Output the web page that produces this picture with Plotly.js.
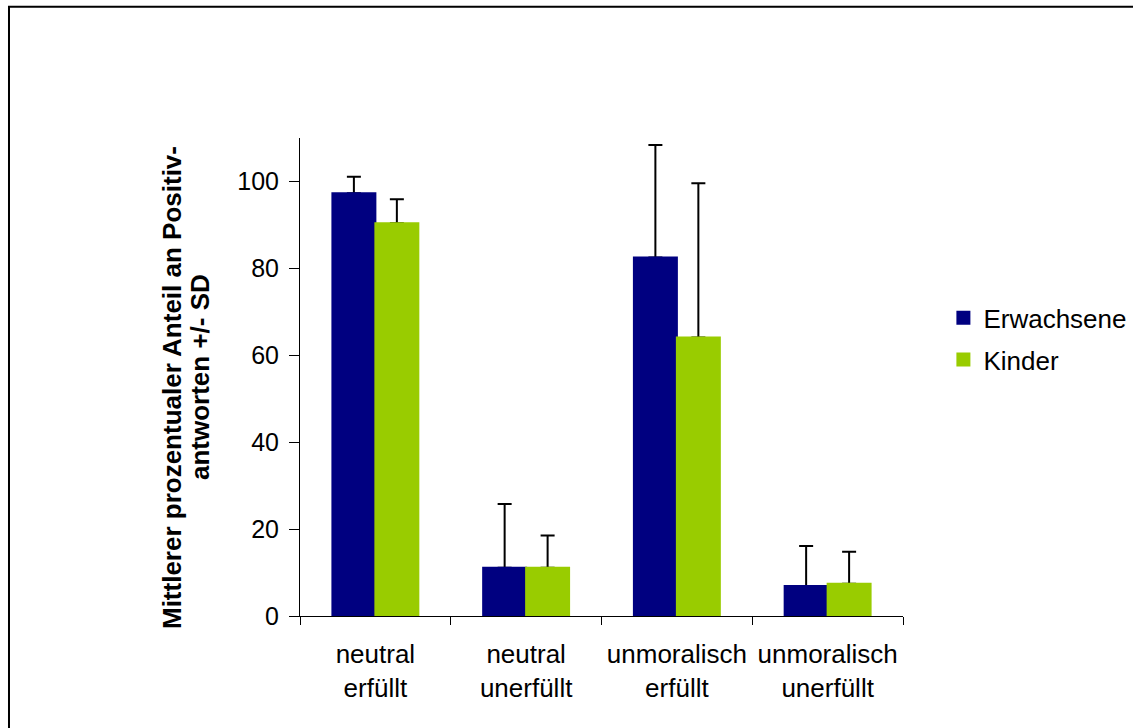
<!DOCTYPE html>
<html>
<head>
<meta charset="utf-8">
<script src="https://cdn.plot.ly/plotly-3.0.1.min.js"></script>
<style>
  html, body { margin: 0; padding: 0; background: #fff; }
  #chart { width: 1133px; height: 728px; }
</style>
</head>
<body>
<div id="chart"></div>
<script>
const categories = ["neutral<br>erfüllt", "neutral<br>unerfüllt", "unmoralisch<br>erfüllt", "unmoralisch<br>unerfüllt"];
const seriesNames = ["Erwachsene", "Kinder"];
const erwachsene = [97.3, 11.1, 82.5, 6.9];
const erwachseneSD = [3.8, 14.7, 25.9, 9.2];
const kinder = [90.4, 11.1, 64.1, 7.4];
const kinderSD = [5.5, 7.4, 35.5, 7.4];
const yTicks = [0, 20, 40, 60, 80, 100];
const titleLines = ["Mittlerer prozentualer Anteil an Positiv-", "antworten +/- SD"];

const FONT = "Liberation Sans, Arial, sans-serif";
const colors = ["#000080", "#99CC00"];

function zeros(a) { return a.map(() => 0); }
function addArr(a, b) { return a.map((v, i) => v + b[i]); }

const means = [erwachsene, kinder];
const sds = [erwachseneSD, kinderSD];

const traces = [];
// error bars (upward, cap at top) on the base axis; the lower cap is hidden under the bars drawn above
for (let s = 0; s < 2; s++) {
  traces.push({
    type: "bar", name: seriesNames[s] + " SD", showlegend: false,
    x: categories, y: addArr(means[s], sds[s]),
    marker: { color: "rgba(0,0,0,0)", line: { width: 0 } },
    error_y: { type: "data", symmetric: false, array: zeros(sds[s]), arrayminus: sds[s], color: "#000", thickness: 2, width: 7 },
    xaxis: "x", yaxis: "y"
  });
}
// visible bars on an overlaid axis (drawn above) with identical grouping
for (let s = 0; s < 2; s++) {
  traces.push({
    type: "bar", name: seriesNames[s], legendgroup: "g" + s,
    x: categories, y: means[s],
    marker: { color: colors[s], line: { color: colors[s], width: 2 } },
    xaxis: "x2", yaxis: "y"
  });
}

const layout = {
  width: 1133, height: 728,
  margin: { l: 300, r: 230, t: 138, b: 112, pad: 0, autoexpand: false },
  paper_bgcolor: "#ffffff", plot_bgcolor: "#ffffff",
  font: { family: FONT, color: "#000000", size: 24 },
  barmode: "group", bargap: 0.43, bargroupgap: 0,
  showlegend: true,
  legend: {
    x: 1.067, xanchor: "left", y: 0.58, yanchor: "middle",
    font: { family: FONT, size: 26, color: "#000" },
    tracegroupgap: 5, bgcolor: "rgba(0,0,0,0)", borderwidth: 0
  },
  xaxis: {
    type: "category",
    showline: true, linecolor: "#000", linewidth: 1,
    ticks: "outside", tickson: "boundaries", ticklen: 8, tickcolor: "#000", tickwidth: 1,
    showgrid: false, zeroline: false, tickangle: 0,
    tickfont: { family: FONT, size: 26, color: "#000" },
    ticklabelstandoff: 15,
    fixedrange: true
  },
  xaxis2: {
    type: "category", overlaying: "x", matches: "x",
    showline: false, showticklabels: false, ticks: "", showgrid: false, zeroline: false,
    fixedrange: true
  },
  yaxis: {
    range: [0, 110], autorange: false,
    tickvals: yTicks, ticktext: yTicks.map(String),
    showline: true, linecolor: "#000", linewidth: 1,
    ticks: "outside", ticklen: 10, tickcolor: "#000", tickwidth: 1,
    showgrid: false, zeroline: false,
    tickfont: { family: FONT, size: 25, color: "#000" },
    ticklabelstandoff: 5,
    automargin: false,
    fixedrange: true
  },
  annotations: [
    {
      text: "<b>" + titleLines[0] + "</b>", textangle: -90,
      xref: "paper", yref: "paper", x: -0.2123, y: 0.479, xanchor: "center", yanchor: "middle",
      showarrow: false, font: { family: FONT, size: 26, color: "#000" }
    },
    {
      text: "<b>" + titleLines[1] + "</b>", textangle: -90,
      xref: "paper", yref: "paper", x: -0.1658, y: 0.500, xanchor: "center", yanchor: "middle",
      showarrow: false, font: { family: FONT, size: 26, color: "#000" }
    }
  ],
  shapes: [
    {
      type: "rect", xref: "paper", yref: "paper",
      x0: -0.4826, x1: 1.40, y0: -0.26, y1: 1.2745,
      line: { color: "#000", width: 2 }, fillcolor: "rgba(0,0,0,0)", layer: "below"
    }
  ]
};

Plotly.newPlot("chart", traces, layout, { displayModeBar: false, staticPlot: true });
</script>
</body>
</html>
